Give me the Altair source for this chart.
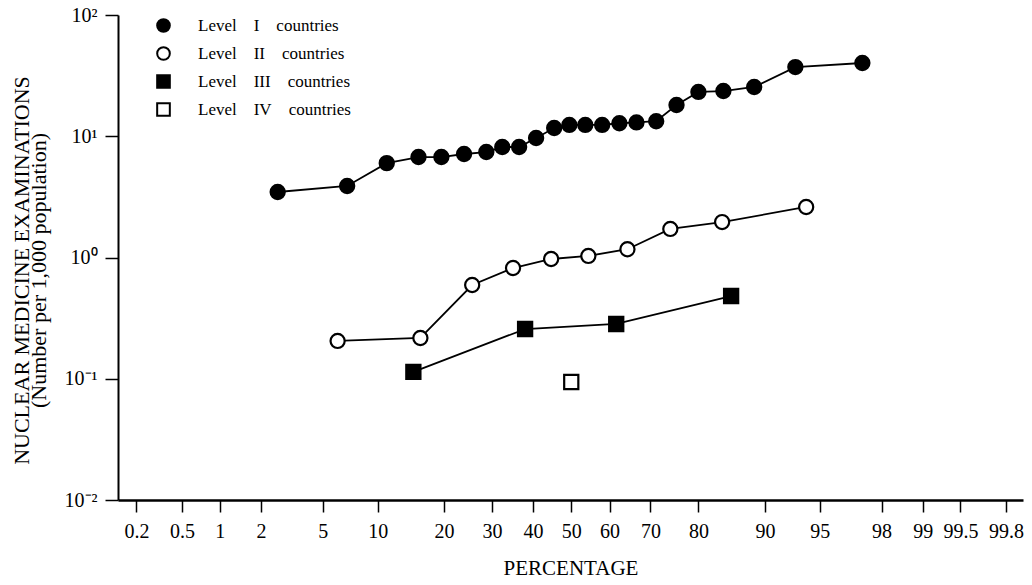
import statistics
import altair as alt
import pandas as pd

# ---- data ----
levels = ["Level\u2003I\u2003countries", "Level\u2003II\u2003countries",
          "Level\u2003III\u2003countries", "Level\u2003IV\u2003countries"]

level1_pct = [2.6, 6.9, 11.1, 15.6, 19.5, 23.9, 28.7, 32.4, 36.5, 40.8, 45.5, 49.5,
              53.7, 58.1, 62.5, 66.7, 71.3, 75.7, 80.0, 84.3, 88.7, 93.1, 97.3]
level1_val = [3.47, 3.89, 6.0, 6.74, 6.74, 7.14, 7.41, 8.15, 8.15, 9.67, 11.7, 12.4,
              12.4, 12.4, 12.8, 13.0, 13.3, 18.1, 23.2, 23.6, 25.5, 37.2, 40.2]

level2_pct = [6.1, 15.9, 25.6, 35.0, 44.7, 54.5, 64.5, 74.4, 84.1, 94.0]
level2_val = [0.205, 0.217, 0.593, 0.819, 0.972, 1.03, 1.17, 1.72, 1.96, 2.61]

level3_pct = [14.8, 38.0, 61.7, 85.5]
level3_val = [0.114, 0.257, 0.283, 0.481]

level4_pct = [50.0]
level4_val = [0.094]

x_tick_pcts = [0.2, 0.5, 1, 2, 5, 10, 20, 30, 40, 50, 60, 70, 80, 90, 95, 98, 99, 99.5, 99.8]
y_tick_vals = [0.01, 0.1, 1, 10, 100]

# ---- build table ----
nd = statistics.NormalDist()
rows = []
for name, pcts, vals in zip(levels,
                            [level1_pct, level2_pct, level3_pct, level4_pct],
                            [level1_val, level2_val, level3_val, level4_val]):
    for p, v in zip(pcts, vals):
        rows.append({"level": name, "pct": p, "z": nd.inv_cdf(p / 100.0), "value": v})
df = pd.DataFrame(rows)
x_tick_z = [nd.inv_cdf(p / 100.0) for p in x_tick_pcts]

FONT = "Liberation Serif"

x_enc = alt.X(
    "z:Q",
    scale=alt.Scale(domain=[-3.0, 2.99], nice=False, zero=False),
    axis=alt.Axis(
        values=x_tick_z,
        labelExpr="'' + round(cumulativeNormal(datum.value) * 1000) / 10",
        title="PERCENTAGE",
        grid=False,
        tickSize=12,
        tickWidth=1.5,
        tickColor="black",
        domainColor="black",
        domainWidth=2.5,
        labelFont=FONT,
        labelFontSize=20,
        labelColor="black",
        labelPadding=9,
        labelFlush=False,
        titleFont=FONT,
        titleFontSize=21,
        titleFontWeight="normal",
        titleColor="black",
        titlePadding=16,
    ),
)

y_enc = alt.Y(
    "value:Q",
    scale=alt.Scale(type="log", domain=[0.01, 100], nice=False),
    axis=alt.Axis(
        values=y_tick_vals,
        labelExpr="'10' + (datum.value >= 99 ? '\u00b2' : datum.value >= 9 ? '\u00b9' : "
                  "datum.value >= 0.9 ? '\u2070' : datum.value >= 0.09 ? '\u207b\u00b9' : '\u207b\u00b2')",
        title=["NUCLEAR MEDICINE EXAMINATIONS", "(Number per 1,000 population)"],
        grid=False,
        tickSize=13,
        tickWidth=1.5,
        tickColor="black",
        domainColor="black",
        domainWidth=2,
        labelFont=FONT,
        labelFontSize=20,
        labelColor="black",
        labelPadding=8,
        labelFlush=False,
        titleFont=FONT,
        titleFontSize=22,
        titleFontWeight="normal",
        titleColor="black",
        titleLineHeight=17,
        titlePadding=14,
        titleY=255,
    ),
)

legend = alt.Legend(title=None, symbolStrokeColor="black", symbolStrokeWidth=2)

base = alt.Chart(df)

lines = base.mark_line(color="black", strokeWidth=1.8).encode(
    x=x_enc, y=y_enc, detail="level:N"
)

points = base.mark_point(
    strokeWidth=2.2, opacity=1, fillOpacity=1, strokeOpacity=1, size=200
).encode(
    x=x_enc,
    y=y_enc,
    shape=alt.Shape(
        "level:N",
        scale=alt.Scale(domain=levels, range=["circle", "circle", "square", "square"]),
        legend=legend,
    ),
    fill=alt.Fill(
        "level:N",
        scale=alt.Scale(domain=levels, range=["black", "white", "black", "white"]),
        legend=legend,
    ),
    stroke=alt.Stroke(
        "level:N",
        scale=alt.Scale(domain=levels, range=["black", "black", "black", "black"]),
        legend=legend,
    ),
)

chart = (
    alt.layer(lines, points)
    .properties(
        width=905,
        height=485,
        autosize=alt.AutoSizeParams(type="none"),
        padding={"left": 118, "top": 15, "right": 9, "bottom": 85},
        background="white",
    )
    .configure_view(stroke=None)
    .configure_legend(
        orient="none",
        legendX=37,
        legendY=2,
        labelFont=FONT,
        labelFontSize=17,
        labelColor="black",
        symbolSize=160,
        symbolStrokeWidth=2,
        symbolStrokeColor="black",
        rowPadding=7,
        labelOffset=26,
    )
)

chart.save("out.html", embed_options={"renderer": "svg", "actions": False})
